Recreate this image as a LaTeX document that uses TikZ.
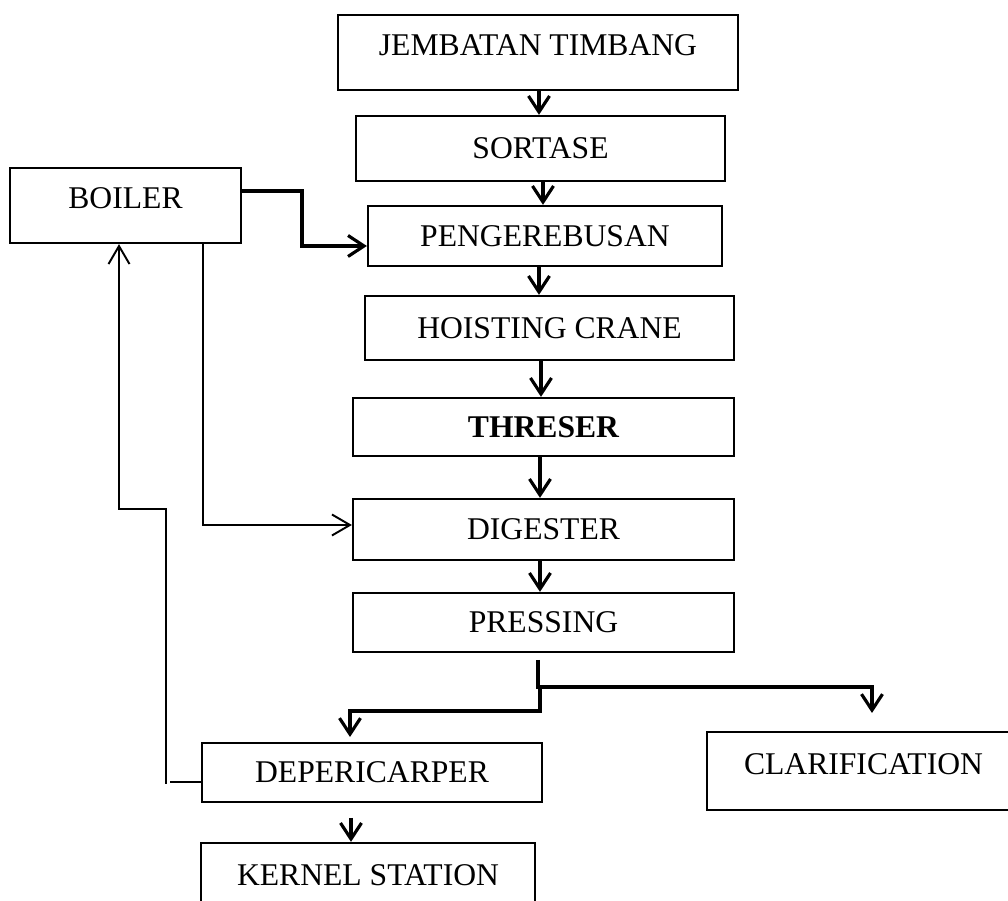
\documentclass[tikz,border=0pt]{standalone}
\usepackage{fontspec}
\setmainfont{Liberation Serif}
\usepackage{tikz}
\usetikzlibrary{arrows.meta, positioning, calc}
\definecolor{mydark}{RGB}{0,0,0}
\tikzset{
  line/.style={draw=mydark, line width=1.8pt},
  arrow/.style={draw=mydark, line width=1.8pt, -{Straight Barb[length=0.32cm, width=0.42cm]}},
  thinline/.style={draw=mydark, line width=1.1pt},
  thinarrow/.style={draw=mydark, line width=1.1pt, -{Straight Barb[length=0.36cm, width=0.42cm]}},
  block/.style={draw=mydark, line width=1.3pt, rectangle, align=center, inner sep=0pt, font=\fontsize{18pt}{22pt}\selectfont, text height=0.42cm, text depth=0cm},
  upblock/.style={block, text depth=0.28cm}
}

\begin{document}
\begin{tikzpicture}[x=0.02cm, y=-0.02cm]
  \useasboundingbox (0,0) rectangle (1008,901);
  \clip (0,0) rectangle (1008,901);

  % Main line
  \node[upblock, minimum width=8cm, minimum height=1.5cm] (jembatan) at (538,52.5) {JEMBATAN TIMBANG};
  \node[block, minimum width=7.38cm, minimum height=1.3cm] (sortase) at (540.5,148.5) {SORTASE};
  \node[block, minimum width=7.08cm, minimum height=1.2cm] (peng) at (545,236) {PENGEREBUSAN};
  \node[block, minimum width=7.38cm, minimum height=1.28cm] (hoisting) at (549.5,328) {HOISTING CRANE};
  \node[block, minimum width=7.62cm, minimum height=1.16cm] (threser) at (543.5,427) {\bfseries THRESER};
  \node[block, minimum width=7.62cm, minimum height=1.22cm] (digester) at (543.5,529.5) {DIGESTER};
  \node[block, minimum width=7.62cm, minimum height=1.18cm] (pressing) at (543.5,622.5) {PRESSING};

  % Side and lower boxes
  \node[upblock, minimum width=4.62cm, minimum height=1.5cm] (boiler) at (125.5,205.5) {BOILER};
  \node[block, minimum width=6.8cm, minimum height=1.18cm] (deper) at (372,772.5) {DEPERICARPER};
  \node[upblock, minimum width=6.26cm, minimum height=1.56cm] (clarif) at (863.5,771) {CLARIFICATION};
  \node[upblock, minimum width=6.68cm, minimum height=1.56cm] (kernel) at (368,882) {KERNEL STATION};

  % Flow down the main line
  \foreach \a/\b/\x in {jembatan/sortase/539, sortase/peng/543, peng/hoisting/539, hoisting/threser/541, threser/digester/540, digester/pressing/540}
    \draw[arrow] (\a.south -| \x,0) -- (\b.north -| \x,0);

  % Split after pressing
  \coordinate (pout) at (538,660);
  \coordinate (split) at (540,687);
  \coordinate (clarin) at (872,713);
  \coordinate (deperin) at (350,737);
  \draw[arrow] (pout) -- (pout |- split) -| (clarin);
  \draw[arrow] (split) -- ++(0,24) -| (deperin);

  \coordinate (kout) at (351,818);
  \draw[arrow] (kout) -- (kout |- kernel.north);

  % Boiler lines
  \draw[arrow] (boiler.east |- 0,191) -- (302,191) -- (302,246) -- (peng.west |- 0,246);
  \draw[thinarrow] (boiler.south -| 203,0) -- (203,525) -- (digester.west |- 0,525);

  \coordinate (ret) at (166,784);
  \draw[thinline] (deper.west |- 0,782) -- (170,782);
  \draw[thinarrow] (ret) -- (166,509) -- (119,509) -- (boiler.south -| 119,0);
\end{tikzpicture}
\end{document}
